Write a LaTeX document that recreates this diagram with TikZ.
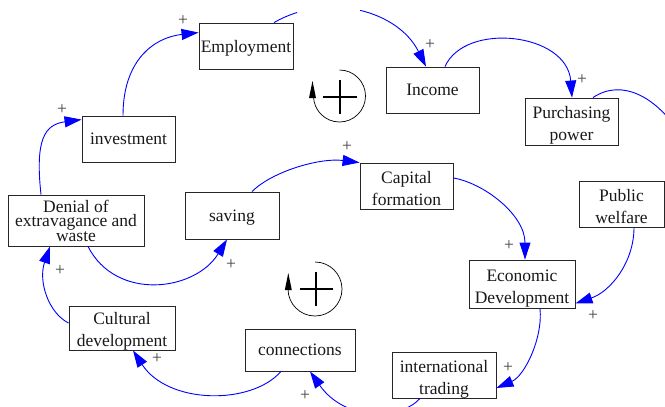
\documentclass[tikz,border=0pt]{standalone}
\usepackage{fontspec}
\setmainfont{Liberation Serif}
\usetikzlibrary{arrows.meta}
\begin{document}
\begin{tikzpicture}[x=1pt,y=-1pt,
  box/.style={draw=black!85, line width=0.9pt, inner sep=0pt, align=center,
    font=\fontsize{17.5}{22}\selectfont, text=black!90, text depth=0pt},
  two/.style={text height=38pt},
  link/.style={draw=blue, line width=0.9pt, -{Triangle[length=17pt,width=11pt]}},
  pl/.style={font=\fontsize{17.5}{17.5}\selectfont, text=black!75, inner sep=0pt},
  loopc/.style={line width=0.7pt},
  loopp/.style={line width=1.5pt}]
\useasboundingbox (0,0) rectangle (665,407);
\clip (0,0) rectangle (665,407);

% nodes
\node[box, minimum width=94pt, minimum height=46pt] (emp) at (246,46) {Employment};
\node[box, minimum width=93pt, minimum height=46pt] (inv) at (128.5,139) {investment};
\node[box, minimum width=136pt, minimum height=51pt, font=\fontsize{17.5}{14.4}\selectfont] (den) at (76,220.5) {Denial of\\extravagance and\\waste};
\node[box, minimum width=94pt, minimum height=47pt] (sav) at (232,215.5) {saving};
\node[box, two, minimum width=106pt, minimum height=44pt, text height=37pt] (cd) at (122,328) {Cultural\\development};
\node[box, minimum width=110pt, minimum height=42pt] (con) at (300,350) {connections};
\node[box, two, minimum width=104pt, minimum height=46pt] (it) at (444,375) {international\\trading};
\node[box, two, minimum width=106pt, minimum height=48pt] (ed) at (522,284) {Economic\\Development};
\node[box, two, minimum width=85pt, minimum height=46pt] (pw) at (621.5,204) {Public\\welfare};
\node[box, two, minimum width=93pt, minimum height=47pt] (pp) at (571.5,121.5) {Purchasing\\power};
\node[box, minimum width=93pt, minimum height=46pt] (inc) at (432.5,90) {Income};
\node[box, two, minimum width=93pt, minimum height=46pt] (cf) at (406.5,186) {Capital\\formation};

% connectors
\draw[link] ([xshift=-5.5pt]inv.north) .. controls +(0,-55) and +(-45,5) .. ([yshift=-10pt]emp.north west);
\draw[link] ([xshift=-35pt]den.north) .. controls +(-6,-55) and +(-37,5) .. ([yshift=-4pt]inv.north west);
\begin{scope}
  \clip (0,13.5) rectangle (665,407) (0,0) rectangle (297,13.5) (360,0) rectangle (665,13.5);
  \draw[link] ([xshift=28pt]emp.north) .. controls +(54,-31) and +(-28,-56) .. ([xshift=-6.5pt]inc.north);
\end{scope}
\draw[link] ([xshift=12.5pt]inc.north) .. controls +(20,-45) and +(-5,-65) .. ([xshift=0.5pt]pp.north);
\draw[link] ([xshift=21.5pt]pp.north) .. controls +(60,-40) and +(60,-20) .. (pw.east);
\draw[link] ([xshift=12.5pt]pw.south) .. controls +(0,35) and +(35,-12) .. ([yshift=5pt]ed.south east);
\draw[link] ([yshift=8pt]cf.east) .. controls +(30,5) and +(0,-45) .. ([xshift=3pt]ed.north);
\draw[link] ([xshift=20pt]sav.north) .. controls +(20,-20) and +(-40,-5) .. (cf.north west);
\draw[link] ([xshift=12pt]den.south) .. controls +(28,55) and +(-32,52) .. ([xshift=-5pt]sav.south);
\draw[link] ([yshift=5pt]cd.west) .. controls +(-20,-10) and +(-12,35) .. ([xshift=-26pt]den.south);
\draw[link] ([xshift=-19pt]con.south) .. controls +(-30,34) and +(35,54) .. ([xshift=11pt]cd.south);
\draw[link] ([xshift=-24pt]it.south) .. controls +(-20,22) and +(35,50) .. ([xshift=10pt]con.south);
\draw[link] ([xshift=18pt]ed.south) .. controls +(3,30) and +(28,-12) .. ([yshift=-13pt]it.east);

% polarity labels
\node[pl] (p1) at (183,21) {+};
\node[pl] (p2) at (62,110) {+};
\node[pl] (p3) at (430,45) {+};
\node[pl] (p4) at (582,80) {+};
\node[pl] (p5) at (593,316) {+};
\node[pl] (p6) at (509,246) {+};
\node[pl] (p7) at (347,147) {+};
\node[pl] (p8) at (231,265) {+};
\node[pl] (p9) at (60,271) {+};
\node[pl] (p10) at (157,358.5) {+};
\node[pl] (p11) at (305,396) {+};
\node[pl] (p12) at (508,368) {+};

% loop symbols
\draw[loopc] (339.5,70) arc[start angle=90, end angle=-180, radius=26pt];
\fill (312.5,81) -- (309,98) -- (316,98) -- cycle;
\draw[loopp] (323,97) -- (357,97) (340,80) -- (340,114);

\draw[loopc] (315,262) arc[start angle=90, end angle=-180, radius=27pt];
\fill (288.3,273) -- (284.8,290) -- (291.8,290) -- cycle;
\draw[loopp] (300,289) -- (333,289) (316,272) -- (316,306);
\end{tikzpicture}
\end{document}
